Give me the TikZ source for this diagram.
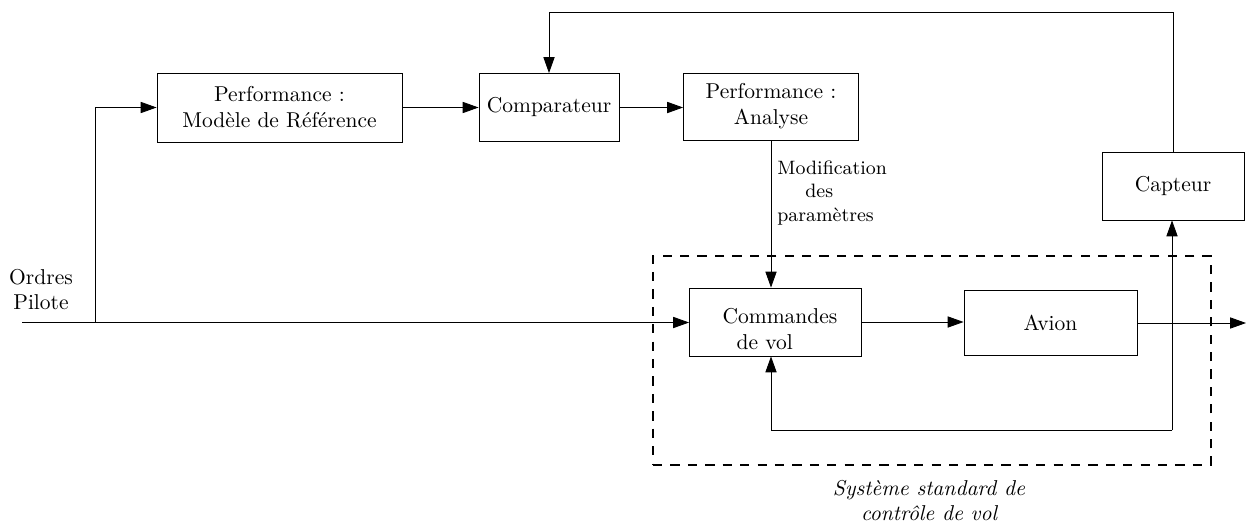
\documentclass[tikz,border=0pt]{standalone}
\usetikzlibrary{arrows.meta}
\newcommand{\pu}{0.4651pt}
\begin{document}
\begin{tikzpicture}[x=0.4651pt,y=-0.4651pt,
  blk/.style={draw,inner sep=0pt,align=center,font=\normalsize},
  arr/.style={-{Triangle[length=7.4pt,width=5.2pt]}},
  sysbox/.style={draw,line width=1.25pt,dash pattern=on 4.3pt off 3.8pt}]
\useasboundingbox (0,0) rectangle (1246,523);
% blocks
\node[blk,minimum width={245*\pu},minimum height={69*\pu}] (mod) at (279.5,107.5) {Performance :\\Mod\`ele de R\'ef\'erence};
\node[blk,minimum width={140*\pu},minimum height={68*\pu}] (comp) at (549,107.5) {Comparateur};
\node[blk,minimum width={175*\pu},minimum height={67*\pu}] (ana) at (771,106.5) {Performance :\\Analyse};
\node[blk,minimum width={142*\pu},minimum height={68*\pu}] (cap) at (1173,186) {Capteur};
\node[blk,minimum width={172*\pu},minimum height={68*\pu}] (cmd) at (775.5,322) {\rule{0pt}{13.6pt}\hspace*{4.2pt}Commandes\\de vol\hspace*{10pt}};
\node[blk,minimum width={173*\pu},minimum height={65*\pu}] (av) at (1050.5,323) {Avion};
% dashed system box
\node[sysbox,inner sep=0pt,minimum width={558*\pu},minimum height={209*\pu}] (sys) at (932,360.5) {};
% labels
\node[align=center,inner sep=0pt] (ord) at (41,289.5) {Ordres\\Pilote};
\node[align=left,inner sep=0pt,anchor=west,font=\small] (modif) at (777,193) {Modification\\\hspace*{13pt}des\\param\`etres};
\node[align=center,inner sep=0pt,font=\itshape] (syslab) at (929,500.5) {Syst\`eme standard de\\contr\^ole de vol};
% coordinates
\coordinate (in) at (22,322.5);
\coordinate (br) at (95,322.5);
\coordinate (out) at (1246,322.5);
\coordinate (fb) at (1172,430);
\coordinate (top) at (549,12);
% connectors
\draw[arr] (in) -- (in -| cmd.west);
\draw[arr] (br) |- (mod.west);
\draw[arr] (mod.east) -- (comp.west);
\draw[arr] (comp.east) -- (comp.east -| ana.west);
\draw[arr] (ana.south) -- (ana.south |- cmd.north);
\draw[arr] (cmd.east) -- (cmd.east -| av.west);
\draw[arr] (av.east) -- (av.east -| out);
\draw[arr] (fb) -| (ana.south |- cmd.south);
\draw[arr] (fb) -- (fb |- cap.south);
\draw[arr] (cap.north) |- (top) -- (comp.north);
\end{tikzpicture}
\end{document}
